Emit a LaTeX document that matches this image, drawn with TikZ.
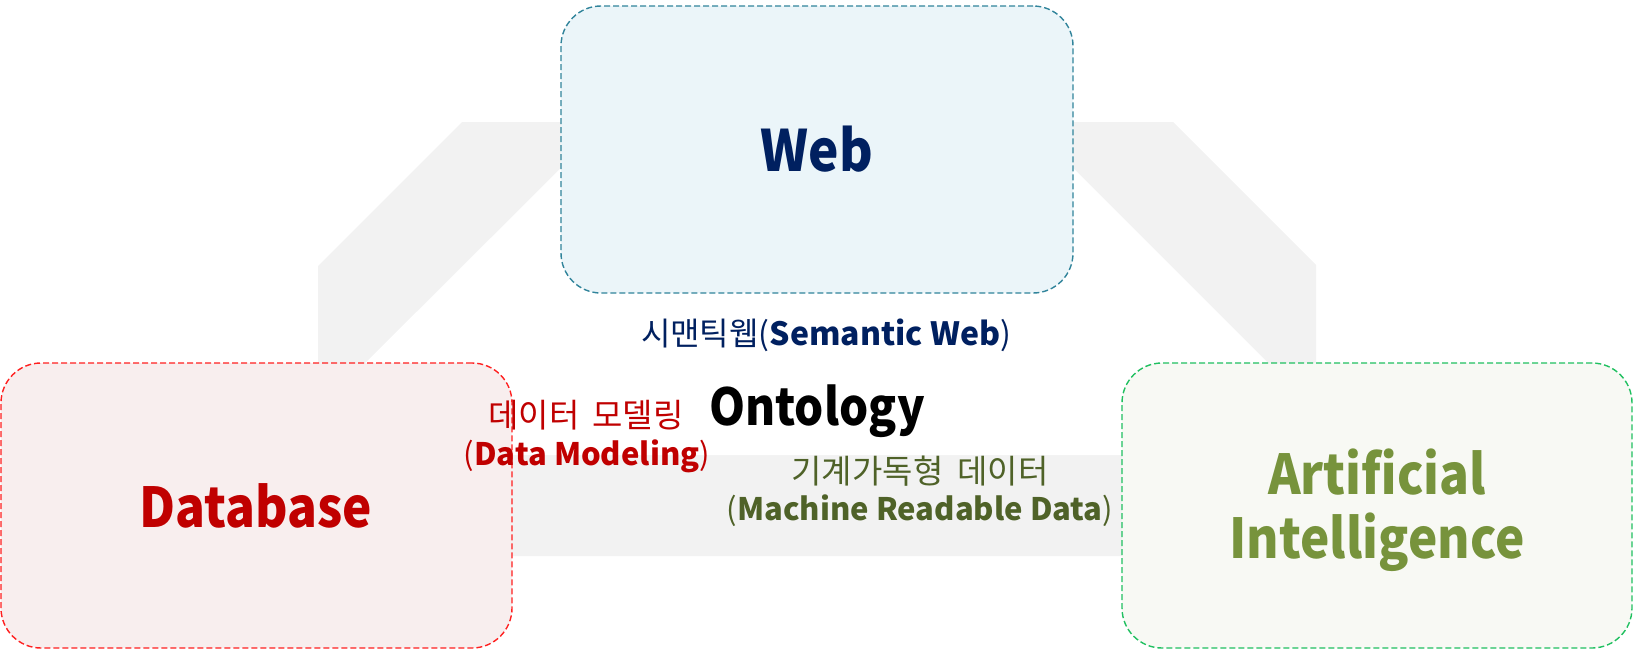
\documentclass[tikz,border=0pt]{standalone}
\usepackage{fontspec}
\setmainfont{Noto Sans CJK KR}
\newfontfamily\titlefont{Noto Sans CJK KR}[FakeStretch=0.9]

\definecolor{bandgray}{HTML}{F2F2F2}
\definecolor{webfill}{HTML}{EBF5F9}
\definecolor{webline}{HTML}{31849B}
\definecolor{webtxt}{HTML}{002060}
\definecolor{dbfill}{HTML}{F8EEEE}
\definecolor{dbline}{HTML}{FF2020}
\definecolor{dbtxt}{HTML}{C00000}
\definecolor{aifill}{HTML}{F8F9F4}
\definecolor{ailine}{HTML}{20C060}
\definecolor{aitxt}{HTML}{77933C}
\definecolor{mrtxt}{HTML}{4F6228}

\newcommand{\krgap}[1][13pt]{\hspace{#1}}

\tikzset{
  box/.style={rounded corners=40pt, line width=1.4pt, dash pattern=on 6pt off 3pt,
              inner sep=0pt, outer sep=0pt},
  title/.style={anchor=base, inner sep=0pt, font=\titlefont\bfseries\fontsize{55}{64}\selectfont},
  caption/.style={anchor=base, inner sep=0pt, font=\fontsize{32}{40}\selectfont},
}

\begin{document}
\begin{tikzpicture}[x=1pt, y=-1pt]
\useasboundingbox (0,0) rectangle (1633,649);

% grey frame behind the three areas
\fill[bandgray] (462,122) -- (1173,122) -- (1316,265) -- (1316,556)
                -- (318,556) -- (318,266) -- cycle;
\fill[white] (569,160) -- (1065,160) -- (1360,455) -- (273,455) -- cycle;

% the three areas
\node[box, draw=webline, fill=webfill, minimum width=512pt, minimum height=287pt]
  (web) at (817,149.5) {};
\node[box, draw=dbline, fill=dbfill, minimum width=511pt, minimum height=285pt]
  (db) at (256.5,505.5) {};
\node[box, draw=ailine, fill=aifill, minimum width=510pt, minimum height=285pt]
  (ai) at (1377,505.5) {};

% area titles
\node[title, text=webtxt, font=\titlefont\bfseries\fontsize{57}{64}\selectfont]
  (webtitle) at (817,171) {Web};
\node[title, text=dbtxt] (dbtitle) at (256,527) {Database};
\node[title, text=aitxt] (aititle1) at (1377,494) {Artificial};
\node[title, text=aitxt] (aititle2) at (1377,558) {Intelligence};

% centre and overlaps
\node[anchor=base, inner sep=0pt, font=\titlefont\bfseries\fontsize{51}{56}\selectfont]
  (onto) at (817,425) {Ontology};
\node[caption, text=webtxt] (sw) at (826,345) {시맨틱웹(\textbf{Semantic Web})};
\node[caption, text=dbtxt, font=\fontsize{33}{40}\selectfont] (dm1) at (586,427) {데이터\krgap 모델링};
\node[caption, text=dbtxt, font=\fontsize{31}{40}\selectfont] (dm2) at (587,465) {(\textbf{Data Modeling})};
\node[caption, text=mrtxt, font=\fontsize{33}{40}\selectfont] (mr1) at (920,483) {기계가독형\krgap[14pt]데이터};
\node[caption, text=mrtxt, font=\fontsize{31}{40}\selectfont] (mr2) at (920,520) {(\textbf{Machine Readable Data})};
\end{tikzpicture}
\end{document}
